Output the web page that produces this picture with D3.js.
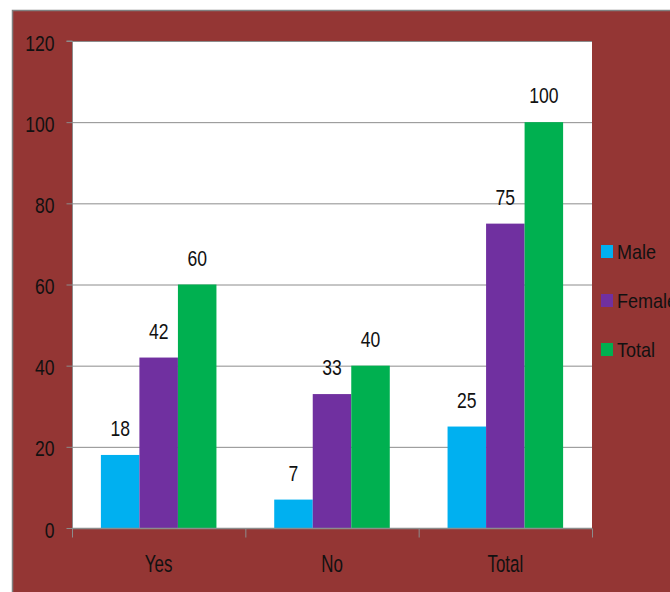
<!DOCTYPE html>
<html>
<head>
<meta charset="utf-8">
<script src="https://cdn.jsdelivr.net/npm/d3@7"></script>
<style>
  body { margin: 0; background: #fff; }
  text { font-family: "Liberation Sans", Arial, sans-serif; fill: #111; }
</style>
</head>
<body>
<div id="chart"></div>
<script>
// Data
const categories = ["Yes", "No", "Total"];
const seriesNames = ["Male", "Female", "Total"];
const male = [18, 7, 25];
const female = [42, 33, 75];
const total = [60, 40, 100];
const yTicks = [0, 20, 40, 60, 80, 100, 120];

const colors = ["#00b0f0", "#7030a0", "#00b050"];
const seriesValues = [male, female, total];

// the original font is narrow: squeeze text horizontally
const placeText = (x, y, sx) => `translate(${x},${y}) scale(${sx},1)`;

// Dimensions
const dims = { width: 670, height: 592, left: 72, right: 592, top: 41, bottom: 528 };

const svg = d3.select("#chart")
  .append("svg")
  .attr("width", dims.width)
  .attr("height", dims.height);

// outer frame
svg.append("rect")
  .attr("x", 12.5).attr("y", 10.5)
  .attr("width", 700).attr("height", 640)
  .attr("fill", "#943634")
  .attr("stroke", "#808080")
  .attr("stroke-width", 1.5);

// Scales
const xScale = d3.scaleBand()
  .domain(categories)
  .range([dims.left, dims.right]);

const xInner = d3.scaleBand()
  .domain(seriesNames)
  .range([0, xScale.bandwidth()])
  .paddingOuter(0.75);

const yScale = d3.scaleLinear()
  .domain([0, 120])
  .range([dims.bottom, dims.top]);

// plot area
svg.append("rect")
  .attr("x", dims.left).attr("y", dims.top)
  .attr("width", dims.right - dims.left)
  .attr("height", dims.bottom - dims.top)
  .attr("fill", "#fff");

// gridlines
svg.append("g")
  .selectAll("line")
  .data(yTicks.filter(d => d > 0))
  .join("line")
  .attr("x1", dims.left).attr("x2", dims.right)
  .attr("y1", d => yScale(d) + 0.5).attr("y2", d => yScale(d) + 0.5)
  .attr("stroke", "#8c8c8c")
  .attr("stroke-width", 1);

// bars
const groups = svg.append("g")
  .selectAll("g")
  .data(categories)
  .join("g")
  .attr("transform", d => `translate(${xScale(d)},0)`);

groups.selectAll("rect")
  .data((c, i) => seriesNames.map((s, j) => ({ s, j, v: seriesValues[j][i] })))
  .join("rect")
  .attr("x", d => xInner(d.s))
  .attr("width", xInner.bandwidth())
  .attr("y", d => yScale(d.v))
  .attr("height", d => yScale(0) - yScale(d.v))
  .attr("fill", d => colors[d.j]);

groups.selectAll("text")
  .data((c, i) => seriesNames.map((s, j) => ({ s, j, v: seriesValues[j][i] })))
  .join("text")
  .attr("transform", d => placeText(xInner(d.s) + xInner.bandwidth() / 2, yScale(d.v) - 19, 0.78))
  .attr("text-anchor", "middle")
  .attr("font-size", 22.5)
  .text(d => d.v);

// y axis
const yAxis = d3.axisLeft(yScale).tickValues(yTicks).tickSize(6).tickPadding(0);
const yAxisGroup = svg.append("g")
  .attr("transform", `translate(${dims.left + 0.5},0)`)
  .call(yAxis);
yAxisGroup.selectAll("line, path").attr("stroke", "#8c8c8c");
yAxisGroup.select(".domain").attr("d", `M-6,${dims.top}H0V${dims.bottom}`);
yAxisGroup.selectAll("text")
  .attr("x", null)
  .attr("dy", null)
  .attr("transform", placeText(-18, 9, 0.78))
  .attr("font-size", 22.5)
  .attr("font-family", null)
  .attr("fill", "#111");

// x axis
const xAxisGroup = svg.append("g")
  .attr("transform", `translate(0,${dims.bottom + 0.5})`);
xAxisGroup.append("line")
  .attr("x1", dims.left).attr("x2", dims.right)
  .attr("stroke", "#8c8c8c").attr("stroke-width", 1.5);
xAxisGroup.selectAll(".tick")
  .data(categories.map(c => xScale(c)).concat([dims.right]))
  .join("line")
  .attr("x1", d => d + 0.5).attr("x2", d => d + 0.5)
  .attr("y1", 0).attr("y2", 9)
  .attr("stroke", "#8c8c8c");
xAxisGroup.selectAll("text")
  .data(categories)
  .join("text")
  .attr("transform", d => placeText(xScale(d) + xScale.bandwidth() / 2, 43, 0.72))
  .attr("text-anchor", "middle")
  .attr("font-size", 23.5)
  .text(d => d);

// legend
const legend = svg.append("g")
  .selectAll("g")
  .data(seriesNames)
  .join("g")
  .attr("transform", (d, i) => `translate(601,${251 + i * 49})`);
legend.append("rect")
  .attr("x", 0).attr("y", -6)
  .attr("width", 12).attr("height", 13)
  .attr("fill", (d, i) => colors[i]);
legend.append("text")
  .attr("transform", placeText(16, 8, 0.9))
  .attr("font-size", 20)
  .text(d => d);
</script>
</body>
</html>
